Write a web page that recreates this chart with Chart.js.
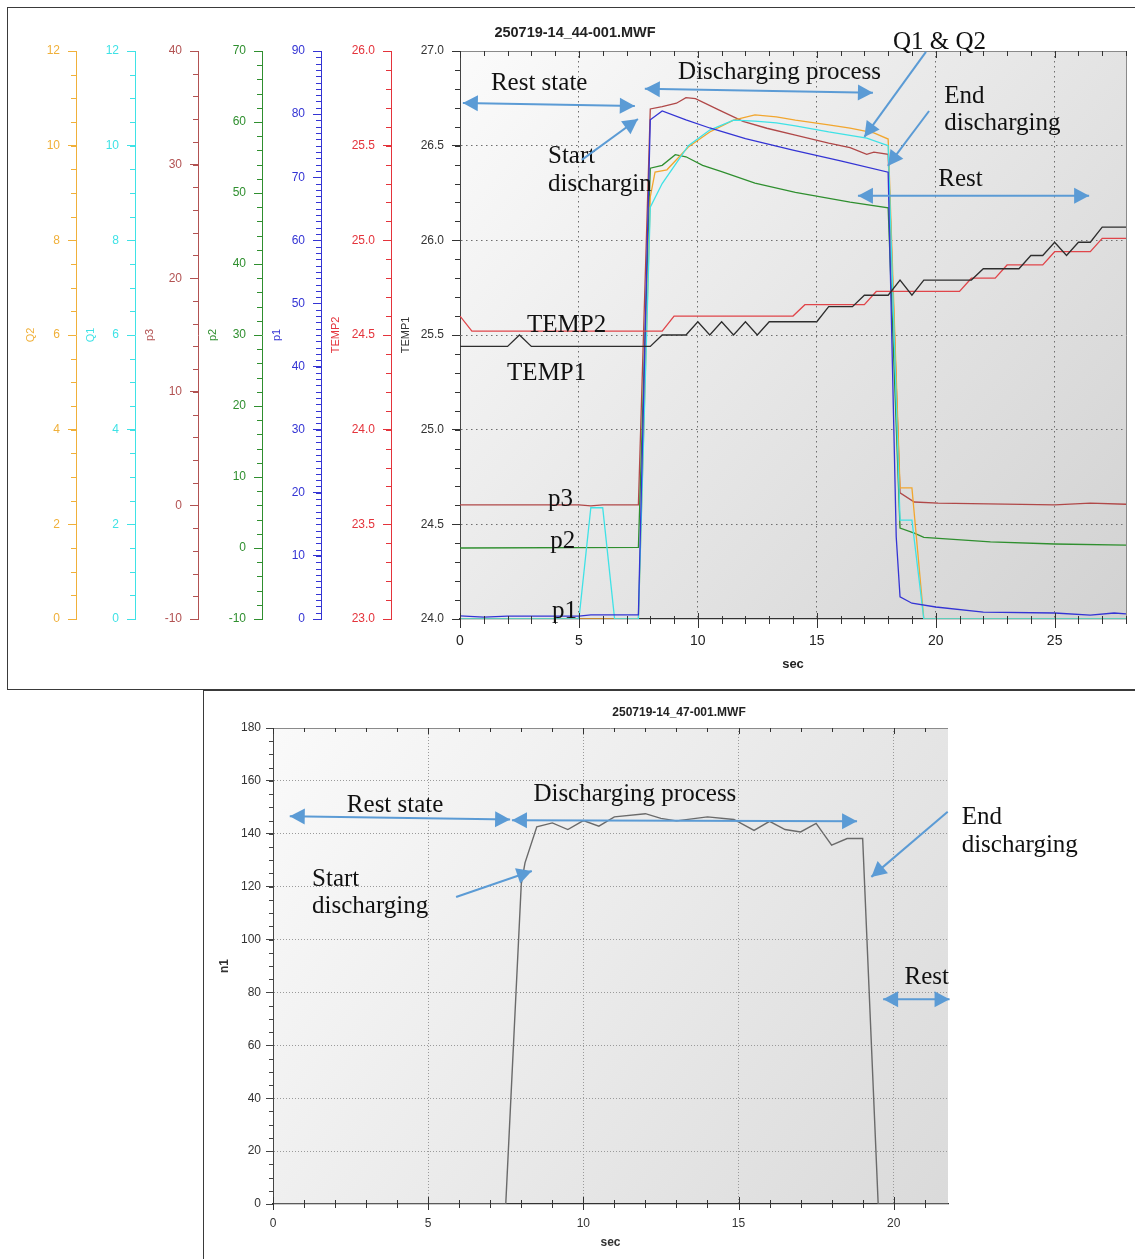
<!DOCTYPE html>
<html>
<head>
<meta charset="utf-8">
<script src="https://cdn.jsdelivr.net/npm/chart.js@4.4.1/dist/chart.umd.min.js"></script>
<style>
  html, body { margin: 0; padding: 0; background: #fff; width: 1135px; height: 1259px; overflow: hidden; }
  #topBox { position: absolute; left: 7px; top: 7px; width: 1140px; height: 681px;
            border: 1px solid #3a3a3a; border-right: none; }
  #botBox { position: absolute; left: 203px; top: 690px; width: 960px; height: 580px;
            border-left: 1px solid #3a3a3a; border-top: 1px solid #3a3a3a; }
  canvas { position: absolute; left: 0; top: 0; }
</style>
</head>
<body>
<div id="topBox"><canvas id="topChart" width="1134" height="681"></canvas></div>
<div id="botBox"><canvas id="botChart" width="948" height="568"></canvas></div>
<script>
const sans = '"Liberation Sans", Arial, sans-serif';
const serif = '"Liberation Serif", "Times New Roman", serif';

// ---- top file 250719-14_44-001.MWF ----
const secTicksTop = [0, 5, 10, 15, 20, 25];
const q2Ticks = [0, 2, 4, 6, 8, 10, 12];
const q1Ticks = [0, 2, 4, 6, 8, 10, 12];
const p3Ticks = [-10, 0, 10, 20, 30, 40];
const p2Ticks = [-10, 0, 10, 20, 30, 40, 50, 60, 70];
const p1Ticks = [0, 10, 20, 30, 40, 50, 60, 70, 80, 90];
const temp2Ticks = [23.0, 23.5, 24.0, 24.5, 25.0, 25.5, 26.0];
const temp1Ticks = [24.0, 24.5, 25.0, 25.5, 26.0, 26.5, 27.0];

const temp1T = [0, 2, 2.5, 3, 8, 8.5, 9.5, 10, 10.5, 11, 11.5, 12, 12.5, 13, 15, 15.5, 16.5, 17, 18, 18.5, 19, 19.5, 21.5, 22, 23.5, 24, 24.5, 25, 25.5, 26, 26.5, 27, 28];
const temp1V = [25.44, 25.44, 25.5, 25.44, 25.44, 25.5, 25.5, 25.57, 25.5, 25.57, 25.5, 25.57, 25.5, 25.57, 25.57, 25.65, 25.65, 25.71, 25.71, 25.79, 25.71, 25.79, 25.79, 25.85, 25.85, 25.92, 25.92, 25.99, 25.92, 25.99, 25.99, 26.07, 26.07];

const temp2T = [0, 0.5, 8.5, 9, 14, 14.5, 17, 17.5, 21, 21.5, 22.5, 23, 24.5, 25, 26.5, 27, 28];
const temp2V = [24.6, 24.52, 24.52, 24.6, 24.6, 24.66, 24.66, 24.73, 24.73, 24.8, 24.8, 24.87, 24.87, 24.94, 24.94, 25.01, 25.01];

const p1T = [0, 1, 2, 5, 5.5, 7.5, 8, 8.5, 9.5, 10.5, 12, 14, 16, 18, 18.34, 18.5, 19, 20, 22, 25, 26.5, 27.5, 28];
const p1V = [0.5, 0.3, 0.45, 0.45, 0.65, 0.65, 79.1, 80.5, 79.1, 77.8, 76.1, 74.3, 72.6, 70.8, 13, 3.5, 2.5, 1.9, 1.1, 0.95, 0.63, 0.95, 0.8];

const p2T = [0, 7.5, 8, 8.5, 9.05, 9.5, 10.2, 11, 12.4, 14.1, 16.4, 18, 18.5, 19.1, 19.5, 22.3, 25, 28];
const p2V = [0, 0.1, 53.5, 53.9, 55.4, 55.1, 53.9, 53, 51.4, 50.1, 48.7, 47.9, 2.8, 2.1, 1.5, 0.85, 0.56, 0.4];

const p3T = [0, 5, 5.5, 6, 7.5, 8, 8.5, 9.1, 9.5, 9.9, 10.9, 11.9, 12.9, 14.1, 15.5, 16.4, 17.1, 17.4, 18, 18.5, 19.1, 20.1, 25, 26.5, 28];
const p3V = [0.05, 0.05, -0.05, 0.05, 0.05, 34.9, 35.1, 35.4, 35.9, 35.8, 34.8, 33.8, 33.2, 32.6, 31.9, 31.5, 30.9, 31.1, 30.9, 1.1, 0.3, 0.2, 0.05, 0.2, 0.1];

const q1T = [0, 5, 5.5, 6, 6.5, 7.5, 8, 8.5, 9.6, 10.5, 11.5, 12.4, 13.3, 14.1, 15.5, 17.1, 18, 18.5, 19, 19.5, 28];
const q1V = [0, 0, 2.35, 2.35, 0, 0, 8.7, 9.2, 10.0, 10.33, 10.54, 10.52, 10.48, 10.42, 10.29, 10.16, 10.0, 2.09, 2.09, 0, 0];

const q2T = [0, 7.5, 8, 8.2, 8.7, 9.6, 10.5, 11.5, 12.4, 13.3, 14.1, 15.5, 16.4, 17.4, 18, 18.5, 19, 19.5, 28];
const q2V = [0, 0, 8.92, 9.44, 9.49, 9.97, 10.29, 10.54, 10.65, 10.61, 10.54, 10.44, 10.37, 10.27, 10.14, 2.77, 2.77, 0, 0];

// ---- bottom file 250719-14_47-001.MWF ----
const secTicksBot = [0, 5, 10, 15, 20];
const n1Ticks = [0, 20, 40, 60, 80, 100, 120, 140, 160, 180];
const n1T = [0, 7.5, 8, 8.12, 8.5, 9, 9.5, 10, 10.5, 11, 12, 12.5, 13, 14, 14.85, 15.5, 16, 16.5, 17, 17.5, 18, 18.5, 19, 19.5, 21.75];
const n1V = [0, 0, 121, 129, 142.6, 144.1, 141.6, 145, 142.9, 146.4, 147.6, 145.8, 144.9, 146.4, 145.4, 141.3, 144.7, 141.6, 140.7, 143.9, 135.7, 138.2, 138.2, 0, 0];

// annotations: [text, sec, value on the plot's own y axis]
const topLabels = [
  ['Rest state', 1.30, 26.795], ['Discharging process', 9.17, 26.853], ['Q1 & Q2', 18.2, 27.011],
  ['End', 20.36, 26.726], ['discharging', 20.36, 26.583], ['Rest', 20.11, 26.287],
  ['Start', 3.70, 26.409], ['dischargin', 3.70, 26.261], ['TEMP2', 2.82, 25.516],
  ['TEMP1', 1.98, 25.263], ['p3', 3.70, 24.597], ['p2', 3.79, 24.375], ['p1', 3.87, 24.005]
];
// [sec1, v1, sec2, v2, double-headed]
const topArrows = [
  [0.12, 26.726, 7.35, 26.71, true], [7.77, 26.80, 17.36, 26.779, true],
  [19.59, 26.995, 17.0, 26.546, false], [19.72, 26.683, 17.99, 26.393, false],
  [16.73, 26.235, 26.45, 26.235, true], [5.12, 26.425, 7.48, 26.641, false]
];
const botLabels = [
  ['Rest state', 2.38, 148.1], ['Discharging process', 8.39, 152.3], ['Start', 1.26, 120.2],
  ['discharging', 1.26, 110.1], ['End', 22.19, 143.6], ['discharging', 22.19, 133.2], ['Rest', 20.35, 83.1]
];
const botArrows = [
  [0.54, 146.6, 7.64, 145.4, true], [7.70, 145.1, 18.82, 144.7, true], [5.90, 116.1, 8.34, 125.9, false],
  [21.74, 148.3, 19.28, 123.7, false], [19.66, 77.4, 21.8, 77.4, true]
];

function pts(ts, vs) { return ts.map((t, i) => ({ x: t, y: vs[i] })); }

function arrowHead(ctx, tx, ty, fx, fy) {
  const a = Math.atan2(ty - fy, tx - fx), L = 15, W = 8;
  ctx.beginPath();
  ctx.moveTo(tx, ty);
  ctx.lineTo(tx - L * Math.cos(a) + W * Math.sin(a), ty - L * Math.sin(a) - W * Math.cos(a));
  ctx.lineTo(tx - L * Math.cos(a) - W * Math.sin(a), ty - L * Math.sin(a) + W * Math.cos(a));
  ctx.closePath();
  ctx.fill();
}

function drawNotes(ctx, xs, ys, labels, arrows) {
  ctx.save();
  ctx.fillStyle = '#111';
  ctx.font = '25px ' + serif;
  ctx.textAlign = 'left';
  ctx.textBaseline = 'alphabetic';
  labels.forEach(([txt, t, v]) => ctx.fillText(txt, xs.getPixelForValue(t), ys.getPixelForValue(v)));
  ctx.strokeStyle = '#5b9bd5';
  ctx.fillStyle = '#5b9bd5';
  ctx.lineWidth = 2;
  arrows.forEach(([t1, v1, t2, v2, both]) => {
    const x1 = xs.getPixelForValue(t1), y1 = ys.getPixelForValue(v1);
    const x2 = xs.getPixelForValue(t2), y2 = ys.getPixelForValue(v2);
    ctx.beginPath(); ctx.moveTo(x1, y1); ctx.lineTo(x2, y2); ctx.stroke();
    arrowHead(ctx, x2, y2, x1, y1);
    if (both) arrowHead(ctx, x1, y1, x2, y2);
  });
  ctx.restore();
}

function minorY(ctx, scale, step, len, color) {
  const n = Math.round((scale.max - scale.min) / step);
  ctx.strokeStyle = color;
  ctx.lineWidth = 1;
  ctx.beginPath();
  for (let i = 0; i <= n; i++) {
    const y = Math.round(scale.getPixelForValue(scale.min + i * step)) + 0.5;
    ctx.moveTo(scale.right - len, y);
    ctx.lineTo(scale.right, y);
  }
  ctx.stroke();
}

function minorX(ctx, xs, area, maxSec, m) {
  ctx.strokeStyle = '#333';
  ctx.lineWidth = 1;
  ctx.beginPath();
  for (let s = 0; s <= maxSec; s++) {
    const x = Math.round(xs.getPixelForValue(s)) + 0.5;
    const big = s % 5 === 0;
    ctx.moveTo(x, area.bottom - (big ? m.up : m.upMinor));
    ctx.lineTo(x, area.bottom + (big ? m.down : m.downMinor));
    ctx.moveTo(x, area.top);
    ctx.lineTo(x, area.top + (big ? m.top + 2 : m.top));
  }
  ctx.stroke();
}

function plotBackground(chart, c0, c1) {
  const { ctx, chartArea: a } = chart;
  const g = ctx.createLinearGradient(a.left, a.top, a.right, a.bottom);
  g.addColorStop(0, c0);
  g.addColorStop(1, c1);
  ctx.save();
  ctx.fillStyle = g;
  ctx.fillRect(a.left, a.top, a.right - a.left, a.bottom - a.top);
  ctx.restore();
}

function sideAxis(title, color, min, max, ticks, width, digits, weight) {
  return {
    type: 'linear', axis: 'y', position: 'left', min, max, weight,
    afterBuildTicks: s => { s.ticks = ticks.map(v => ({ value: v })); },
    afterFit: s => { s.width = width; },
    grid: { drawOnChartArea: false, drawTicks: true, tickLength: 8, tickColor: color, tickWidth: 1 },
    border: { display: true, color, width: 1 },
    ticks: { color, padding: 8, autoSkip: false, font: { size: 12, family: sans }, callback: v => v.toFixed(digits) },
    title: { display: true, text: title, color, font: { size: 11, family: sans }, padding: { top: 8, bottom: 0 } }
  };
}

const colQ2 = '#f0b03a', colQ1 = '#3fe2e6', colP3 = '#b25252', colP2 = '#2f8f2f',
      colP1 = '#3434d4', colT2 = '#e4333b', colT1 = '#333333';

const topMinor = { Q2: [0.5, colQ2], Q1: [0.5, colQ1], p3: [2, colP3], p2: [2, colP2],
                   p1: [1, colP1], TEMP2: [0.1, colT2], TEMP1: [0.1, colT1] };

const temp1Axis = sideAxis('TEMP1', colT1, 24, 27, temp1Ticks, 69, 1, 0);
temp1Axis.grid = {
  drawOnChartArea: true, drawTicks: true, tickLength: 8, tickColor: colT1, tickWidth: 1, lineWidth: 1,
  color: c => (c.tick && (c.tick.value === 24 || c.tick.value === 27)) ? 'rgba(0,0,0,0)' : '#6e6e6e'
};
temp1Axis.border = { display: true, color: '#444', width: 1, dash: [1.5, 3.5] };
temp1Axis.ticks.color = '#333';

const line = (label, t, v, axis, color, order) => ({
  label, data: pts(t, v), yAxisID: axis, borderColor: color, backgroundColor: color,
  borderWidth: 1.3, pointRadius: 0, tension: 0, order
});

new Chart(document.getElementById('topChart'), {
  type: 'line',
  data: {
    datasets: [
      line('TEMP1', temp1T, temp1V, 'TEMP1', '#2e2e2e', 0),
      line('TEMP2', temp2T, temp2V, 'TEMP2', '#e0454a', 1),
      line('p1', p1T, p1V, 'p1', colP1, 2),
      line('Q1', q1T, q1V, 'Q1', colQ1, 3),
      line('Q2', q2T, q2V, 'Q2', '#f2a62e', 4),
      line('p2', p2T, p2V, 'p2', colP2, 5),
      line('p3', p3T, p3V, 'p3', '#b04848', 6)
    ]
  },
  options: {
    responsive: false,
    animation: false,
    events: [],
    layout: { padding: { left: 8, right: 16, top: 43, bottom: 0 } },
    plugins: { legend: { display: false }, title: { display: false }, tooltip: { enabled: false } },
    scales: {
      Q2: sideAxis('Q2', colQ2, 0, 12, q2Ticks, 60, 0, 6),
      Q1: sideAxis('Q1', colQ1, 0, 12, q1Ticks, 59, 0, 5),
      p3: sideAxis('p3', colP3, -10, 40, p3Ticks, 63, 0, 4),
      p2: sideAxis('p2', colP2, -10, 70, p2Ticks, 64, 0, 3),
      p1: sideAxis('p1', colP1, 0, 90, p1Ticks, 59, 0, 2),
      TEMP2: sideAxis('TEMP2', colT2, 23, 26, temp2Ticks, 70, 1, 1),
      TEMP1: temp1Axis,
      x: {
        type: 'linear', position: 'bottom', min: 0, max: 28,
        afterBuildTicks: s => { s.ticks = secTicksTop.map(v => ({ value: v })); },
        afterFit: s => { s.height = 70; },
        grid: { drawTicks: false, lineWidth: 1,
                color: c => (c.tick && c.tick.value === 0) ? 'rgba(0,0,0,0)' : '#6e6e6e' },
        border: { display: true, color: '#333', width: 1.2, dash: [1.5, 3.5] },
        ticks: { color: '#222', padding: 14, autoSkip: false, maxRotation: 0, font: { size: 14, family: sans } },
        title: { display: true, text: 'sec', color: '#222', font: { size: 13, weight: 'bold', family: sans },
                 padding: { top: 0, bottom: 17 } }
      }
    }
  },
  plugins: [{
    id: 'topDecor',
    beforeDraw(chart) { plotBackground(chart, '#fbfbfb', '#d2d2d2'); },
    afterDraw(chart) {
      const { ctx, chartArea: a, scales } = chart;
      ctx.save();
      Object.keys(topMinor).forEach(id => minorY(ctx, scales[id], topMinor[id][0], 5, topMinor[id][1]));
      ctx.strokeStyle = '#8a8a8a';
      ctx.lineWidth = 1;
      ctx.beginPath();
      ctx.moveTo(a.left, a.top + 0.5); ctx.lineTo(a.right + 0.5, a.top + 0.5); ctx.lineTo(a.right + 0.5, a.bottom);
      ctx.stroke();
      minorX(ctx, scales.x, a, 28, { up: 6, down: 9, upMinor: 3, downMinor: 5, top: 5 });
      ctx.fillStyle = '#222';
      ctx.font = 'bold 14.5px ' + sans;
      ctx.textAlign = 'center';
      ctx.textBaseline = 'middle';
      ctx.fillText('250719-14_44-001.MWF', 567, 25);
      ctx.restore();
      drawNotes(ctx, scales.x, scales.TEMP1, topLabels, topArrows);
    }
  }]
});

new Chart(document.getElementById('botChart'), {
  type: 'line',
  data: {
    datasets: [{
      label: 'n1', data: pts(n1T, n1V), borderColor: '#6a6a6a', borderWidth: 1.4,
      pointRadius: 0, tension: 0
    }]
  },
  options: {
    responsive: false,
    animation: false,
    events: [],
    layout: { padding: { left: 0, right: 204, top: 37, bottom: 0 } },
    plugins: { legend: { display: false }, title: { display: false }, tooltip: { enabled: false } },
    scales: {
      x: {
        type: 'linear', position: 'bottom', min: 0, max: 21.75,
        afterBuildTicks: s => { s.ticks = secTicksBot.map(v => ({ value: v })); },
        afterFit: s => { s.height = 55; },
        grid: { drawTicks: false, lineWidth: 1,
                color: c => (c.tick && c.tick.value === 0) ? 'rgba(0,0,0,0)' : '#9a9a9a' },
        border: { display: true, color: '#333', width: 1.2, dash: [1, 2] },
        ticks: { color: '#333', padding: 12, autoSkip: false, maxRotation: 0, font: { size: 12, family: sans } },
        title: { display: true, text: 'sec', color: '#333', font: { size: 12, weight: 'bold', family: sans },
                 padding: { top: 0, bottom: 9 } }
      },
      y: {
        type: 'linear', position: 'left', min: 0, max: 180,
        afterBuildTicks: s => { s.ticks = n1Ticks.map(v => ({ value: v })); },
        afterFit: s => { s.width = 69; },
        grid: { drawTicks: true, tickLength: 7, tickColor: '#444', lineWidth: 1,
                color: c => (c.tick && (c.tick.value === 0 || c.tick.value === 180)) ? 'rgba(0,0,0,0)' : '#9a9a9a' },
        border: { display: true, color: '#444', width: 1, dash: [1, 2] },
        ticks: { color: '#333', padding: 5, autoSkip: false, font: { size: 12, family: sans } },
        title: { display: true, text: 'n1', color: '#333', font: { size: 12, weight: 'bold', family: sans },
                 padding: { top: 13, bottom: 0 } }
      }
    }
  },
  plugins: [{
    id: 'botDecor',
    beforeDraw(chart) { plotBackground(chart, '#fafafa', '#dadada'); },
    afterDraw(chart) {
      const { ctx, chartArea: a, scales } = chart;
      ctx.save();
      minorY(ctx, scales.y, 5, 4, '#444');
      ctx.strokeStyle = '#8a8a8a';
      ctx.lineWidth = 1;
      ctx.beginPath();
      ctx.moveTo(a.left, a.top + 0.5); ctx.lineTo(a.right, a.top + 0.5);
      ctx.stroke();
      minorX(ctx, scales.x, a, 21, { up: 7, down: 6, upMinor: 4, downMinor: 4, top: 4 });
      ctx.fillStyle = '#222';
      ctx.font = 'bold 12px ' + sans;
      ctx.textAlign = 'center';
      ctx.textBaseline = 'middle';
      ctx.fillText('250719-14_47-001.MWF', 475, 22);
      ctx.restore();
      drawNotes(ctx, scales.x, scales.y, botLabels, botArrows);
    }
  }]
});
</script>
</body>
</html>
